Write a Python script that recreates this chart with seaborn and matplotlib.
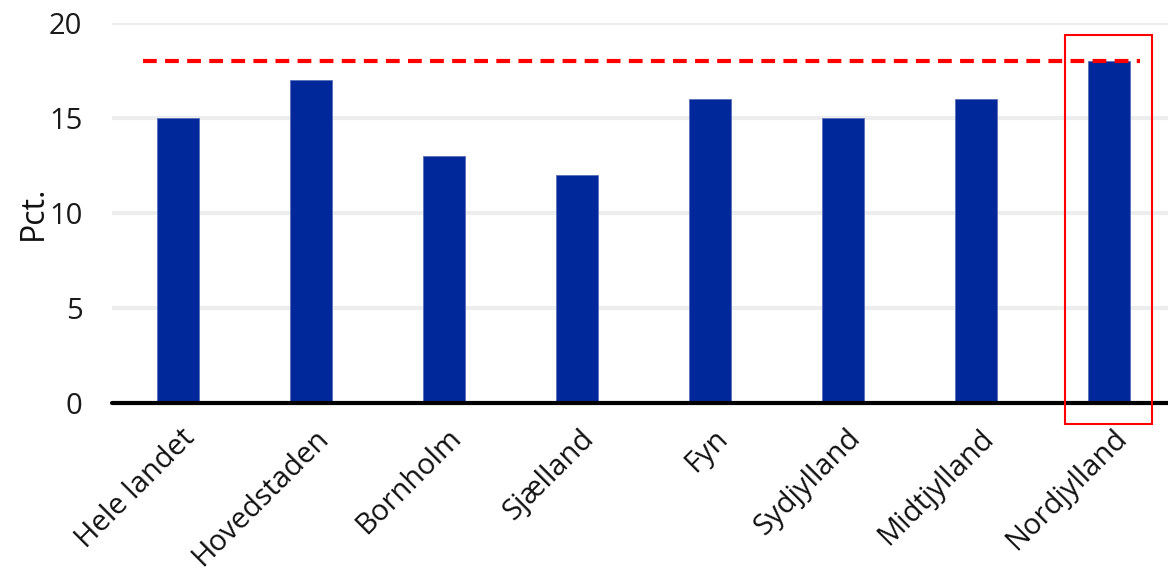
import matplotlib
matplotlib.use("Agg")
import matplotlib.pyplot as plt
from matplotlib.patches import Rectangle
from matplotlib.transforms import ScaledTranslation
import pandas as pd
import seaborn as sns

# Regional shares (pct.)
regions = ["Hele landet", "Hovedstaden", "Bornholm", "Sjælland", "Fyn",
           "Sydjylland", "Midtjylland", "Nordjylland"]
shares = [15, 17, 13, 12, 16, 15, 16, 18]
reference_level = 18
highlight_region = "Nordjylland"
y_ticks = [0, 5, 10, 15, 20]

sns.set_theme(style="white")
plt.rcParams["font.family"] = ["Open Sans", "DejaVu Sans"]

df = pd.DataFrame({"region": regions, "pct": shares})

fig = plt.figure(figsize=(11.68, 5.80), dpi=100)
ax = fig.add_axes([111.5 / 1168, 1 - 403 / 580, 1 - 111.5 / 1168, (403 - 23) / 580])

sns.barplot(data=df, x="region", y="pct", color="#00289A", saturation=1,
            width=0.316, ax=ax, zorder=3, edgecolor="#5a6fb8", linewidth=0.6)

ax.set_ylim(0, 20)
ax.set_xlim(-0.5, 7.44)
ax.set_yticks(y_ticks)
ax.set_yticklabels([str(t) for t in y_ticks])

# light horizontal grid
for t in y_ticks[1:]:
    ax.axhline(t, color="#EDEDED", lw=3, zorder=0)
ax.axhline(0, color="black", lw=3, zorder=4, clip_on=False)

for s in ax.spines.values():
    s.set_visible(False)

ax.tick_params(axis="y", length=0, pad=21, labelsize=21, labelcolor="#1a1a1a")
ax.tick_params(axis="x", length=0, pad=18, labelsize=21, labelcolor="#111111")
shift = ScaledTranslation(13 / 100, -6 / 100, fig.dpi_scale_trans)
for lab in ax.get_xticklabels():
    lab.set_rotation(45)
    lab.set_ha("right")
    lab.set_va("center")
    lab.set_rotation_mode("anchor")
    lab.set_transform(lab.get_transform() + shift)
ax.set_xlabel("")
ax.set_ylabel("Pct.", fontsize=23, color="#111111")
ax.yaxis.set_label_coords(-0.058, 0.5)

# dashed reference line at the highest regional level
ax.plot([-0.263, 7.23], [reference_level, reference_level], color="#FF0000",
        lw=3, ls=(0, (3.3, 2)), zorder=5)

# frame around the highlighted region
i = regions.index(highlight_region)
ax.add_patch(Rectangle((i - 0.333, -1.1), 0.654, 20.47, fill=False,
                       edgecolor="#FF0000", lw=1.5, zorder=6, clip_on=False))

fig.savefig("out.png", dpi=100, facecolor="white")
